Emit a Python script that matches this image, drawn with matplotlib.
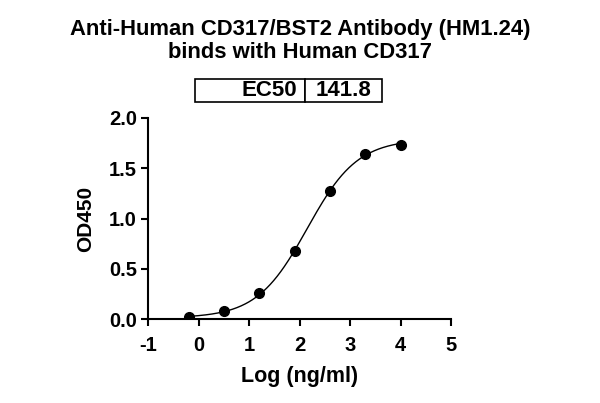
import numpy as np
import matplotlib
matplotlib.use("Agg")
from matplotlib import pyplot as plt

plt.rcParams['font.family'] = ['Liberation Sans', 'DejaVu Sans']
plt.rcParams['font.weight'] = 'bold'
plt.rcParams['axes.unicode_minus'] = False

# measured points (log ng/ml vs OD450)
log_conc = [-0.194, 0.505, 1.204, 1.903, 2.602, 3.301, 4.0]
od450 = [0.025, 0.075, 0.255, 0.68, 1.27, 1.64, 1.735]

# 4PL fit parameters
bottom = 0.01
top = 1.79
log_ec50 = np.log10(141.8)
hill = 0.87
ec50_text = "141.8"

fig = plt.figure(figsize=(6, 4.03), dpi=100)
ax = fig.add_axes([0.2467, 0.2084, 0.505, 0.4988])

xs = np.linspace(min(log_conc), max(log_conc), 300)
fit = bottom + (top - bottom) / (1 + 10 ** ((log_ec50 - xs) * hill))
ax.plot(xs, fit, color='black', lw=1.0)
ax.plot(log_conc, od450, 'o', color='black', ms=7)

ax.set_xlim(-1, 5)
ax.set_ylim(0, 2.0)
ax.set_xticks(range(-1, 6))
ax.set_yticks([0, 0.5, 1.0, 1.5, 2.0])
ax.set_yticklabels(['0.0', '0.5', '1.0', '1.5', '2.0'])
for s in ['top', 'right']:
    ax.spines[s].set_visible(False)
for s in ['left', 'bottom']:
    ax.spines[s].set_linewidth(1.5)
ax.tick_params(width=1.5, length=5, labelsize=14.5)
ax.tick_params(axis='x', pad=7)
ax.tick_params(axis='y', pad=3)
for lab in ax.get_xticklabels() + ax.get_yticklabels():
    lab.set_fontweight('bold')

ax.set_xlabel('Log (ng/ml)', fontsize=15.5, fontweight='bold', labelpad=8)
ax.set_ylabel('OD450', fontsize=15, fontweight='bold', labelpad=10)

fig.text(0.5, 0.898, 'Anti-Human CD317/BST2 Antibody (HM1.24)\nbinds with Human CD317',
         ha='center', va='center', fontsize=15.8, fontweight='bold', linespacing=1.08)

# EC50 table box
tab = ax.table(cellText=[['EC50', ec50_text]], cellLoc='center',
               colWidths=[0.36, 0.25], bbox=[0.155, 1.08, 0.617, 0.115])
tab.auto_set_font_size(False)
for (r, c), cell in tab.get_celld().items():
    cell.set_linewidth(1.2)
    cell.get_text().set_fontsize(16)
    cell.get_text().set_fontweight('bold')
    if c == 0:
        cell.get_text().set_ha('right')
        cell._loc = 'right'
        cell.PAD = 0.07
    else:
        cell._loc = 'left'
        cell.PAD = 0.09

fig.savefig('out.png', dpi=100)
